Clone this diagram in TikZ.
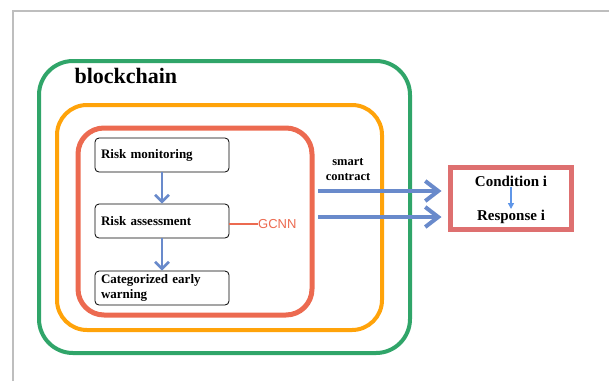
\documentclass[tikz,border=0pt]{standalone}
\usepackage{fontspec}
\setmainfont{Liberation Serif}
\newfontfamily\gcnnfont{Liberation Sans}
\usepackage{xcolor}
\definecolor{Col1}{RGB}{48,165,105}
\definecolor{Col2}{RGB}{255,163,10}
\definecolor{Col3}{RGB}{236,106,80}
\definecolor{Col4}{RGB}{222,112,112}
\definecolor{Col5}{RGB}{105,138,203}
\definecolor{Col6}{RGB}{95,150,232}
\definecolor{Col7}{RGB}{190,190,190}
\usepackage{tikz}
\usetikzlibrary{arrows.meta}
\tikzstyle{Frame}=[rounded corners,line width=4pt]
\tikzstyle{StepBox}=[rectangle,draw=black,rounded corners=4pt,thick,
minimum width=134pt,minimum height=34pt,inner xsep=6pt,
text width=122pt,align=left,font=\fontsize{13}{15}\selectfont\bfseries]
\tikzstyle{Edge}=[draw=Col5,line width=2.6pt,
-{Straight Barb[length=7pt,width=14pt]}]
\tikzstyle{BigEdge}=[draw=Col5,line width=4pt,
-{Straight Barb[length=13pt,width=20pt]},shorten >=6pt]
\tikzstyle{NodeST}=[inner sep=1pt,font=\fontsize{15}{17}\selectfont\bfseries]

\begin{document}
\begin{tikzpicture}[x=1pt,y=-1pt]
            \useasboundingbox (0,0) rectangle (609,381);
            \draw[Col7,line width=1.2pt](13,381)--(13,11)--(609,11);
            %
            \draw[Frame,draw=Col1,rounded corners=34pt]
                (39,61) rectangle (410,353);
            \draw[Frame,draw=Col2,rounded corners=30pt]
                (57,105) rectangle (382,330);
            \draw[Frame,draw=Col3,line width=5pt,rounded corners=26pt]
                (78,128) rectangle (312,315);
            \node[anchor=base west,font=\fontsize{22}{24}\selectfont\bfseries]
                (bc)at(71,83){blockchain};
            %
            \node[StepBox](mon)at(162,155){Risk monitoring};
            \node[StepBox](ass)at(162,221){Risk assessment};
            \node[StepBox](war)at(162,288){Categorized early\\warning};
            \draw[Edge](mon)--(ass);
            \draw[Edge](ass)--(war);
            \node[anchor=west,inner sep=0pt,text=Col3,
                font=\fontsize{13}{15}\gcnnfont](gcnn)at(258,224){GCNN};
            \draw[draw=Col3,line width=2pt](ass.east|-gcnn.west)--(gcnn.west);
            %
            \node[align=center,font=\fontsize{12.5}{15}\selectfont\bfseries]
                (sc)at(348,170){smart\\contract};
            \node[draw=Col4,line width=5pt,minimum width=121pt,
                minimum height=62pt](cond)at(510.5,198){};
            \node[NodeST](ci)at(511,181){Condition i};
            \node[NodeST](ri)at(511,217){Response i};
            \draw[draw=Col6,line width=1.4pt,-{Triangle[length=6pt,width=6pt]}]
                (ci)--(ri);
            \coordinate(s1)at(318,191);
            \coordinate(s2)at(318,217);
            \draw[BigEdge](s1)--(s1-|cond.west);
            \draw[BigEdge](s2)--(s2-|cond.west);
        \end{tikzpicture}
\end{document}
